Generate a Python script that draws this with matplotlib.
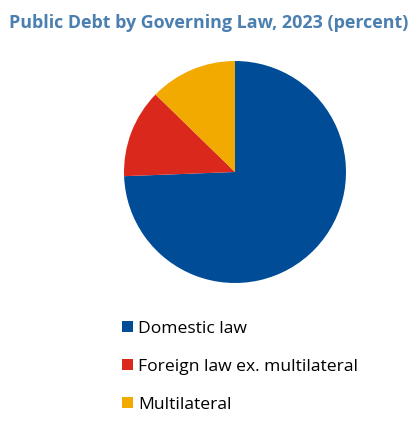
import matplotlib
matplotlib.use("Agg")
import matplotlib.pyplot as plt
from matplotlib.patches import Patch

categories = ["Domestic law", "Foreign law ex. multilateral", "Multilateral"]
shares = [74.4, 12.9, 12.7]
colors = ["#004C97", "#DA291C", "#F2A900"]
title = "Public Debt by Governing Law, 2023 (percent)"

W, H = 417, 425
fig = plt.figure(figsize=(W / 100, H / 100), dpi=100)
plt.rcParams["font.family"] = ["Open Sans", "DejaVu Sans"]

# pie axes: center (235, 172), radius 111 px
r = 111
cx, cy = 235, 172
ax = fig.add_axes([(cx - r) / W, 1 - (cy + r) / H, 2 * r / W, 2 * r / H])
ax.pie(shares, colors=colors, startangle=90, counterclock=False,
       wedgeprops=dict(linewidth=0))
ax.set_aspect("equal")
ax.set_xlim(-1, 1)
ax.set_ylim(-1, 1)

fig.text(9 / W, 1 - 23 / H, title, fontsize=12.9, fontweight="bold",
         color="#4A7FB0", va="center", ha="left")

handles = [Patch(facecolor=c, edgecolor="none") for c in colors]
fig.legend(handles, categories, loc="upper left",
           bbox_to_anchor=(115 / W, 1 - 314 / H), frameon=False,
           fontsize=12.6, handlelength=0.6, handleheight=0.6,
           handletextpad=0.3, labelspacing=1.25, borderaxespad=0)

fig.savefig("out.png", dpi=100)
